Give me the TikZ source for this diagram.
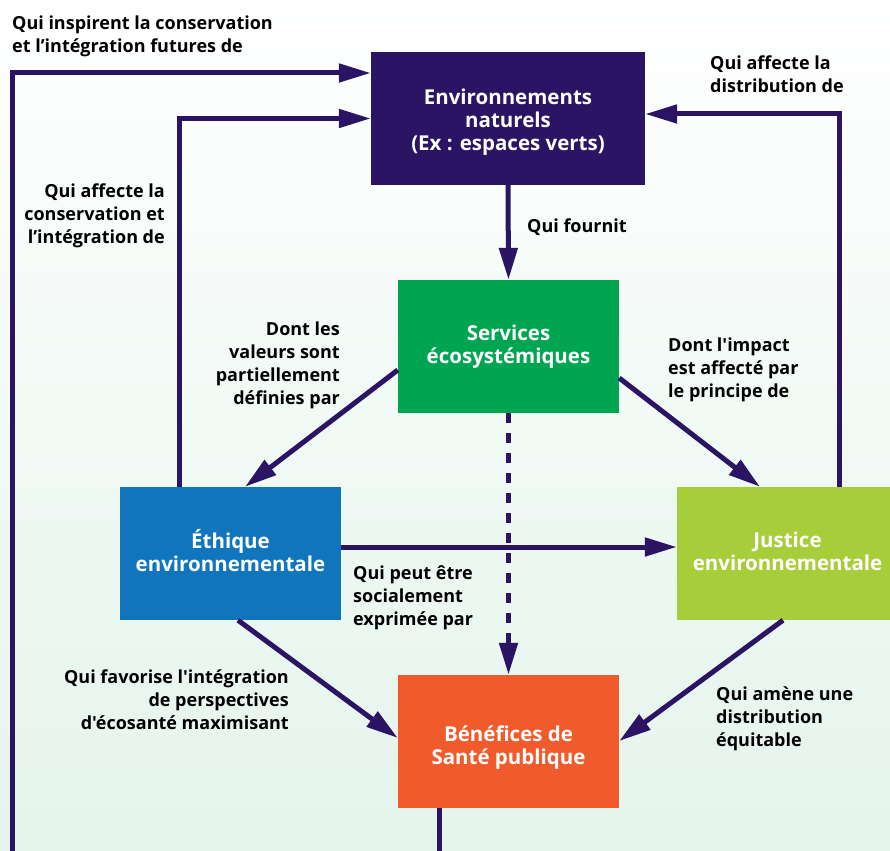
\documentclass[tikz,border=0pt]{standalone}
\usepackage{fontspec}
\setmainfont{Open Sans}[Ligatures=TeXOff]
\usetikzlibrary{arrows.meta,calc}

\begin{document}
\begin{tikzpicture}[
        x=1pt,y=-1pt,
        font=\fontsize{18}{23}\selectfont\bfseries,
        box/.style={minimum width=221pt,minimum height=133pt,inner sep=0pt,
            text=white,align=center,font=\fontsize{20.5}{23}\selectfont\bfseries,
            execute at begin node={\rule{0pt}{#1pt}},
            execute at end node={\rule[-20pt]{0pt}{0pt}}},
        box/.default=53,
        lbl/.style={inner sep=0pt,text=black},
        link/.style={line width=5pt,draw=lnk,
            -{Triangle[length=32pt,width=18pt]}}
    ]
    \definecolor{lnk}{HTML}{2C1465}
    \definecolor{envc}{HTML}{2B1463}
    \definecolor{servc}{HTML}{00A551}
    \definecolor{ethc}{HTML}{1075BC}
    \definecolor{jusc}{HTML}{A8CD3A}
    \definecolor{benc}{HTML}{F15A2B}
    \definecolor{bgc}{HTML}{E4F4EC}

    \useasboundingbox (0,0) rectangle (890,850);
    \shade[top color=white,bottom color=bgc] (0,0) rectangle (890,850);
    \clip (0,0) rectangle (890,850);

    \node (env)  [box=84,fill=envc,minimum width=274pt] at (508,118.5)
        {Environnements\\naturels\\(Ex : espaces verts)};
    \node (serv) [box,fill=servc]    at (508.5,346.5) {Services\\écosystémiques};
    \node (eth)  [box=56,fill=ethc]  at (230.5,553.5) {Éthique\\environnementale};
    \node (jus)  [box=54,fill=jusc]  at (787.5,553.5) {Justice\\environnementale};
    \node (ben)  [box=65,fill=benc]  at (508.5,741.5) {Bénéfices de\\Santé publique};

    \coordinate (loop) at (12,880);

    \draw[link] (env.south) -- (serv.north);
    \draw[link] ([yshift=-23.5pt]serv.west) -- ([xshift=14.5pt]eth.north);
    \draw[link] ([yshift=-31.5pt]serv.east) -- ([xshift=-27.5pt]jus.north);
    \draw[link] ([yshift=6.5pt]eth.east) -- ([yshift=6.5pt]jus.west);
    \draw[link,dash pattern=on 10pt off 10pt] (serv.south) -- (ben.north);
    \draw[link] ([xshift=7.5pt]eth.south) -- ([yshift=3.5pt]ben.west);
    \draw[link] ([xshift=-4.5pt]jus.south) -- ([yshift=0.5pt]ben.east);
    \draw[link] ([xshift=51.5pt]jus.north) |- ([yshift=4.5pt]env.east);
    \draw[link] ([xshift=-51.5pt]eth.north) |- (env.west);
    \draw[link] ([xshift=-69.5pt]ben.south) |- (loop) |- ([yshift=45.5pt]env.west);

    \node (l1) [lbl,anchor=north west,align=left]  at (12,16)
        {Qui inspirent la conservation\\et l’intégration futures de};
    \node (l2) [lbl,anchor=north west,align=left]  at (710,56)
        {Qui affecte la\\distribution de};
    \node (l3) [lbl,anchor=north east,align=right] at (165,184)
        {Qui affecte la\\conservation et\\l’intégration de};
    \node (l4) [lbl,anchor=north west,align=left]  at (527,219) {Qui fournit};
    \node (l5) [lbl,anchor=north east,align=right] at (340,322)
        {Dont les\\valeurs sont\\partiellement\\définies par};
    \node (l6) [lbl,anchor=north west,align=left]  at (668,338)
        {Dont l'impact\\est affecté par\\le principe de};
    \node (l7) [lbl,anchor=north west,align=left]  at (353,566)
        {Qui peut être\\socialement\\exprimée par};
    \node (l8) [lbl,anchor=north east,align=right] at (289,670)
        {Qui favorise l'intégration\\de perspectives\\d'écosanté maximisant};
    \node (l9) [lbl,anchor=north west,align=left]  at (716,687)
        {Qui amène une\\distribution\\équitable};
\end{tikzpicture}
\end{document}
